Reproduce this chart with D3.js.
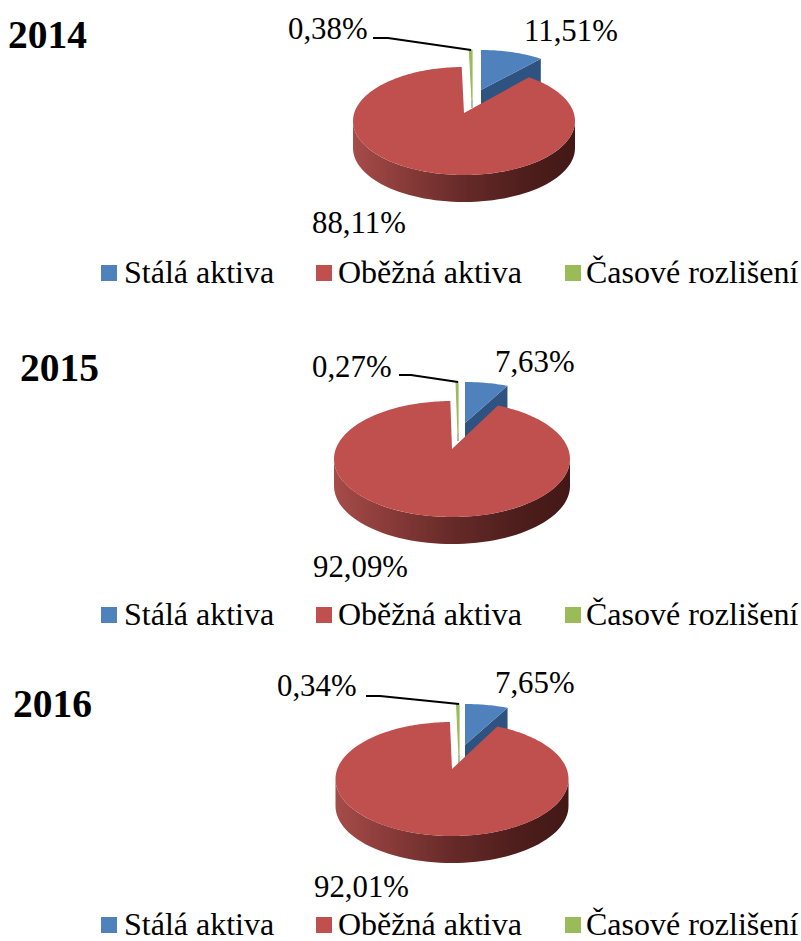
<!DOCTYPE html>
<html><head><meta charset="utf-8">
<script src="https://cdn.jsdelivr.net/npm/d3@7"></script>
<style>html,body{margin:0;background:#fff}svg{display:block}text{font-family:"Liberation Serif",serif;fill:#000}</style>
</head><body><div id="c"></div>
<script>
const years=["2014","2015","2016"];
const categories=["Stálá aktiva","Oběžná aktiva","Časové rozlišení"];
const staleValues=[11.51,7.63,7.65];
const obezneValues=[88.11,92.09,92.01];
const casoveValues=[0.38,0.27,0.34];
const colors=["#4F81BD","#C0504D","#9BBB59"];
const wallBlue="#2F5380";
const layouts=[
 {year:[8,48],cx:464,cy:121,rx:111,ry:54,ax:464,ay:113,bx:481,bcy:98,brx:104,bry:48,bay:90,gx:472,gay:100,depth:27,
  lab:[[524,41],[288,39],[312,233]],lead:[[373,38],[388,38],[471,50]],leg:283},
 {year:[20,381],cx:452,cy:459,rx:118,ry:58,ax:452,ay:449,bx:465,bcy:433,brx:112,bry:51,bay:423,gx:458,gay:433,depth:27,
  lab:[[495,372],[312,377],[313,577]],lead:[[399,375],[411,375],[458,382]],leg:625},
 {year:[13,717],cx:452,cy:779,rx:116.5,ry:57,ax:452,ay:769,bx:465,bcy:755,brx:112,bry:51,bay:745,gx:459,gay:755,depth:27,
  lab:[[495,693],[277,696],[314,897]],lead:[[366,696],[380,696],[459,704]],leg:935}
];
const legendX=[[101,124],[316,338],[565,586]];
const W=801,H=941;
const svg=d3.select("#c").append("svg").attr("width",W).attr("height",H);
const defs=svg.append("defs");
const lineGen=d3.line();
const grad=defs.append("linearGradient").attr("id","wall").attr("x1",0).attr("x2",1).attr("y1",0).attr("y2",0);
[[0,"#A64C49"],[.22,"#8A3C3A"],[.5,"#662A28"],[.8,"#4C1D1B"],[1,"#421816"]].forEach(s=>grad.append("stop").attr("offset",s[0]).attr("stop-color",s[1]));
function rim(ax,ay,ecx,ecy,rx,ry,a){
  const px=(ax-ecx)/rx,py=(ay-ecy)/ry,dx=Math.sin(a),dy=-Math.cos(a);
  const b=px*dx+py*dy,t=-b+Math.sqrt(b*b-(px*px+py*py)+1);
  return [ecx+rx*(px+t*dx),ecy+ry*(py+t*dy)];
}
function wedge(ax,ay,ecx,ecy,rx,ry,a0,a1){
  const n=Math.max(2,Math.ceil(Math.abs(a1-a0)*40));
  const pts=[[ax,ay]];
  d3.range(n+1).forEach(i=>pts.push(rim(ax,ay,ecx,ecy,rx,ry,a0+(a1-a0)*i/n)));
  return lineGen(pts)+"Z";
}
const pie=d3.pie().sort(null);
years.forEach((y,i)=>{
  const L=layouts[i],vals=[staleValues[i],obezneValues[i],casoveValues[i]];
  const arcs=pie(vals),g=svg.append("g");
  const bc=rim(L.bx,L.bay,L.bx,L.bcy,L.brx,L.bry,arcs[0].endAngle);
  g.append("path").attr("d",lineGen([[L.bx,L.bay],bc,[bc[0],bc[1]+L.depth],[L.bx,L.bay+L.depth]])+"Z").attr("fill",wallBlue);
  g.append("path").attr("d",wedge(L.bx,L.bay,L.bx,L.bcy,L.brx,L.bry,arcs[0].startAngle,arcs[0].endAngle)).attr("fill",colors[0]);
  g.append("path").attr("d",wedge(L.gx,L.gay,L.gx,L.bcy,L.brx,L.bry,arcs[2].startAngle,arcs[2].endAngle)).attr("fill",colors[2]).attr("stroke",colors[2]).attr("stroke-width",1.2);
  g.append("path").attr("d",lineGen([[L.gx,L.gay],[L.gx,L.gay+8]])).attr("stroke","#9aa88a").attr("stroke-width",1.5);
  const lower=d3.range(0,61).map(k=>{const a=Math.PI/2+Math.PI*k/60;return [L.cx+L.rx*Math.sin(a),L.cy-L.ry*Math.cos(a)];});
  g.append("path").attr("d",lineGen(lower.concat(lower.slice().reverse().map(p=>[p[0],p[1]+L.depth])))+"Z").attr("fill","url(#wall)");
  g.append("path").attr("d",wedge(L.ax,L.ay,L.cx,L.cy,L.rx,L.ry,arcs[1].startAngle,arcs[1].endAngle)).attr("fill",colors[1]);
  g.append("path").attr("d",lineGen(L.lead)).attr("fill","none").attr("stroke","#000").attr("stroke-width",2);
  const fmt=v=>d3.format(".2f")(v).replace(".",",")+"%";
  [staleValues[i],casoveValues[i],obezneValues[i]].forEach((v,k)=>{
    g.append("text").attr("x",L.lab[k][0]).attr("y",L.lab[k][1]).attr("font-size",30.8).text(fmt(v));
  });
  g.append("text").attr("x",L.year[0]).attr("y",L.year[1]).attr("font-size",39.5).attr("font-weight","bold").text(y);
  categories.forEach((c,k)=>{
    g.append("rect").attr("x",legendX[k][0]).attr("y",L.leg-18).attr("width",16).attr("height",16).attr("fill",colors[k]);
    g.append("text").attr("x",legendX[k][1]).attr("y",L.leg).attr("font-size",32).text(c);
  });
});
</script></body></html>
